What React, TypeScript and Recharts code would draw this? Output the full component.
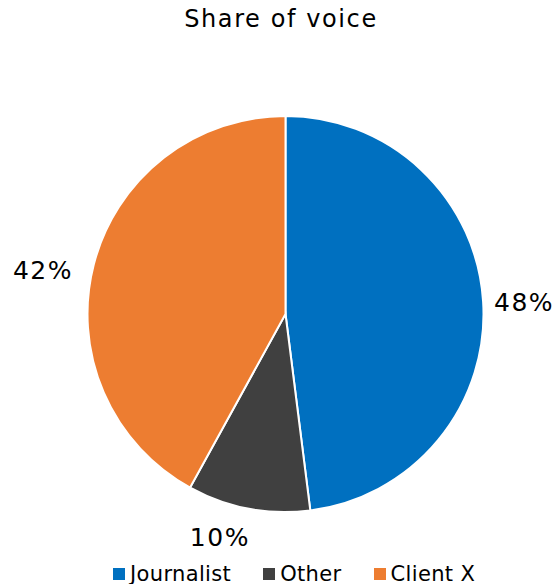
import { Cell, Pie, PieChart } from 'recharts'

const categories = ['Journalist', 'Other', 'Client X']
const shares = [48, 10, 42]
const colors = ['#0070C0', '#404040', '#ED7D31']

const data = categories.map((name, i) => ({ name, value: shares[i] }))

const FONT = '"DejaVu Sans", Verdana, sans-serif'
const RAD = Math.PI / 180

// small per-label nudges, excel doesn't place them purely radially
const labelNudge = [
  [1, 3],
  [-21, -10],
  [-12, 16],
]

const renderLabel = (props: any) => {
  const { cx, cy, midAngle, outerRadius, value, index } = props
  const r = outerRadius + 40
  const [dx, dy] = labelNudge[index] || [0, 0]
  const x = cx + r * Math.cos(-midAngle * RAD) + dx
  const y = cy + r * Math.sin(-midAngle * RAD) + dy
  return (
    <text
      x={x}
      y={y}
      textAnchor="middle"
      dominantBaseline="central"
      fill="#000"
      fontSize={25}
      letterSpacing={1.5}
      fontFamily={FONT}
    >
      {value}%
    </text>
  )
}

export default function App() {
  return (
    <div style={{ position: 'absolute', left: 0, top: 0, width: 560, height: 584, background: '#fff', fontFamily: FONT, overflow: 'hidden' }}>
      <div style={{ position: 'absolute', top: 5, left: 0, width: 562, textAlign: 'center', fontSize: 24, letterSpacing: 1.6, color: '#000' }}>
        Share of voice
      </div>
      <PieChart width={560} height={584}>
        <Pie
          data={data}
          dataKey="value"
          nameKey="name"
          cx={280.5}
          cy={309}
          outerRadius={198}
          startAngle={90}
          endAngle={-270}
          stroke="#fff"
          strokeWidth={2}
          label={renderLabel}
          labelLine={false}
          isAnimationActive={false}
        >
          {data.map((d, i) => (
            <Cell key={d.name} fill={colors[i]} />
          ))}
        </Pie>
      </PieChart>
      <div
        style={{
          position: 'absolute',
          top: 561,
          left: 113,
          display: 'flex',
          gap: 32,
          fontSize: 21,
          letterSpacing: 0.35,
          lineHeight: '26px',
          color: '#000',
          whiteSpace: 'nowrap',
        }}
      >
        {categories.map((c, i) => (
          <div key={c} style={{ display: 'flex', alignItems: 'center' }}>
            <span style={{ width: 12, height: 12, background: colors[i], marginRight: 5, display: 'inline-block' }} />
            {c}
          </div>
        ))}
      </div>
    </div>
  )
}
